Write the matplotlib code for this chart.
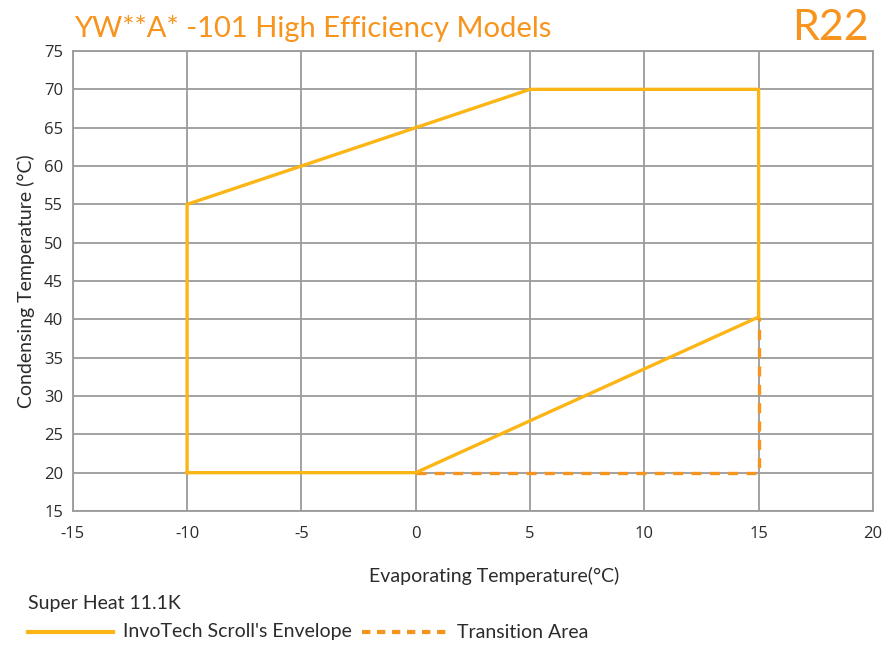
import numpy as np
import matplotlib.pyplot as plt
from matplotlib.lines import Line2D

plt.rcParams["axes.unicode_minus"] = False

# envelope and transition area (evap, cond)
env_x = [-10, -10, 5, 15, 15, 0, -10]
env_y = [20, 55, 70, 70, 40.3, 20, 20]
trans_x = [0, 15, 15]
trans_y = [20, 20, 40.3]

xticks = [-15, -10, -5, 0, 5, 10, 15, 20]
yticks = list(range(15, 80, 5))

env_color = "#fbb515"
trans_color = "#f7941d"
grid_color = "#9b9b9b"
txt_color = "#2b2b2b"

fig = plt.figure(figsize=(8.86, 6.45), dpi=100)
ax = fig.add_axes([72.8 / 886, 1 - 511 / 645, (872.9 - 72.8) / 886, (511 - 51) / 645])

ax.plot(trans_x, trans_y, color=trans_color, lw=2.4, ls=(0, (3, 2.5)), zorder=3)
ax.plot(env_x, env_y, color=env_color, lw=2.4, zorder=4, solid_joinstyle="miter")

ax.set_xlim(-15, 20)
ax.set_ylim(15, 75)
ax.set_xticks(xticks)
ax.set_yticks(yticks)
ax.grid(True, color=grid_color, lw=1.3)
ax.set_axisbelow(True)
for s in ax.spines.values():
    s.set_color(grid_color)
    s.set_linewidth(1.3)
ax.tick_params(length=0, labelsize=12, colors=txt_color, pad=7)
ax.tick_params(axis="x", pad=11)
for lab in ax.get_xticklabels() + ax.get_yticklabels():
    lab.set_family("Open Sans")

ax.set_xlabel("Evaporating Temperature(°C)", fontsize=14, family="Lato", color=txt_color)
ax.xaxis.set_label_coords((494 - 72.8) / 800.1, -(576 - 511) / 460)
ax.xaxis.label.set_va("center")
ax.set_ylabel("Condensing Temperature (°C)", fontsize=14, family="Lato", color=txt_color, labelpad=6)

fig.text(74 / 886, 1 - 37 / 645, "YW**A* -101 High Efficiency Models", fontsize=21, family="Lato",
         color=trans_color, ha="left", va="baseline")
fig.text(869 / 886, 1 - 40 / 645, "R22", fontsize=31, family="Lato", color=trans_color,
         ha="right", va="baseline")
fig.text(28 / 886, 1 - 603 / 645, "Super Heat 11.1K", fontsize=14, family="Lato", color=txt_color,
         ha="left", va="center")

# legend drawn by hand in figure coords
ly = 1 - 632 / 645
fig.add_artist(Line2D([28 / 886, 113 / 886], [ly, ly], color=env_color, lw=3))
fig.text(123 / 886, ly, "InvoTech Scroll's Envelope", fontsize=14, family="Lato", color=txt_color,
         ha="left", va="center")
fig.add_artist(Line2D([362 / 886, 448 / 886], [ly, ly], color=trans_color, lw=3, ls=(0, (2, 1.6))))
fig.text(457 / 886, ly, "Transition Area", fontsize=14, family="Lato", color=txt_color,
         ha="left", va="center")

fig.savefig("out.png", dpi=100)
